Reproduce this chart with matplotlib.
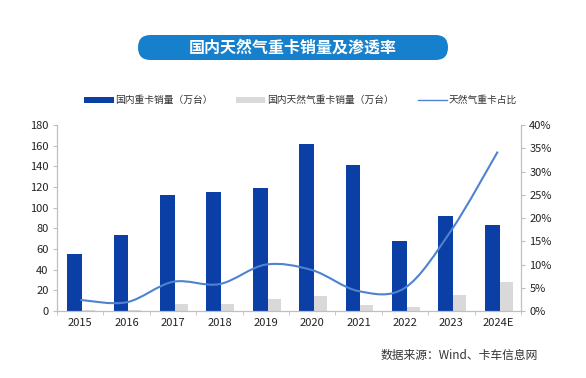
import numpy as np
import matplotlib
matplotlib.use('Agg')
import matplotlib.pyplot as plt
from matplotlib.patches import FancyBboxPatch, Patch, PathPatch
from matplotlib.lines import Line2D
from matplotlib.path import Path

plt.rcParams['font.family'] = ['Noto Sans CJK SC', 'DejaVu Sans']

years = ['2015', '2016', '2017', '2018', '2019', '2020', '2021', '2022', '2023', '2024E']
heavy_truck = [55, 74, 112, 115, 119, 162, 141, 68, 92, 83]  # 国内重卡销量（万台）
lng_truck = [1, 1, 7, 7, 12, 14.5, 6, 4, 15.5, 28]  # 国内天然气重卡销量（万台）
lng_share = [2.4, 1.9, 6.3, 5.8, 10.0, 8.8, 4.3, 5.0, 17.4, 34.3]  # 天然气重卡占比 (%)

BLUE = '#0b3fa6'
GRAY = '#d9d9d9'
LINE = '#4f82cf'
AXIS = '#bfbfbf'

fig = plt.figure(figsize=(5.86, 3.78), dpi=100)

# pixel-space overlay for the title pill
bg = fig.add_axes([0, 0, 1, 1])
bg.set_xlim(0, 586)
bg.set_ylim(378, 0)
bg.axis('off')
bg.add_patch(FancyBboxPatch((138, 35), 310, 25, boxstyle='round,pad=0,rounding_size=12.5',
                            facecolor='#1680cc', edgecolor='none'))
bg.text(293, 47.5, '国内天然气重卡销量及渗透率', ha='center', va='center', color='white',
        fontsize=11.5, fontweight='bold')

ax = fig.add_axes([0.0973, 0.177, 0.7917, 0.492])
ax2 = ax.twinx()

x = np.arange(len(years))
ax.bar(x - 0.12, heavy_truck, width=0.32, color=BLUE, zorder=2)
ax.bar(x + 0.18, lng_truck, width=0.28, color=GRAY, zorder=2)

# smoothed line (catmull-rom -> bezier), like excel's smoothed line
pts = np.column_stack([x, lng_share])
verts = [tuple(pts[0])]
codes = [Path.MOVETO]
for i in range(len(pts) - 1):
    p0 = pts[i - 1] if i > 0 else pts[i]
    p1, p2 = pts[i], pts[i + 1]
    p3 = pts[i + 2] if i + 2 < len(pts) else pts[i + 1]
    c1 = p1 + (p2 - p0) / 6
    c2 = p2 - (p3 - p1) / 6
    verts += [tuple(c1), tuple(c2), tuple(p2)]
    codes += [Path.CURVE4] * 3
ax2.add_patch(PathPatch(Path(verts, codes), fill=False, edgecolor=LINE, lw=1.5, zorder=3))

ax.set_xlim(-0.5, len(years) - 0.5)
ax.set_ylim(0, 180)
ax.set_yticks(range(0, 181, 20))
ax2.set_ylim(0, 40)
ax2.set_yticks(range(0, 41, 5))
ax2.set_yticklabels([f'{v}%' for v in range(0, 41, 5)])

ax.set_xticks(x)
ax.set_xticklabels(years)
ax.set_xticks(np.arange(-0.5, len(years), 1), minor=True)
ax.tick_params(axis='x', which='major', length=0, labelsize=8, pad=5, colors='#222222')
ax.tick_params(axis='x', which='minor', length=3, color=AXIS, direction='out')
ax.tick_params(axis='y', length=3, color=AXIS, labelsize=8, colors='#222222', pad=3)
ax2.tick_params(axis='y', length=3, color=AXIS, labelsize=8, colors='#222222', pad=3)

for a in (ax, ax2):
    a.spines['top'].set_visible(False)
    for s in ('left', 'right', 'bottom'):
        a.spines[s].set_color(AXIS)
        a.spines[s].set_linewidth(0.8)

handles = [Patch(facecolor=BLUE, edgecolor='none'),
           Patch(facecolor=GRAY, edgecolor='none'),
           Line2D([0], [0], color=LINE, lw=1.0)]
labels = ['国内重卡销量（万台）', '国内天然气重卡销量（万台）', '天然气重卡占比']
fig.legend(handles, labels, loc='center', bbox_to_anchor=(0.513, 0.735), ncol=3, frameon=False,
           fontsize=7, handlelength=3.0, handleheight=0.6, columnspacing=2.4, handletextpad=0.2,
           labelcolor='#333333')

fig.text(0.918, 0.06, '数据来源：Wind、卡车信息网', ha='right', va='center', fontsize=8.5, color='#333333')

fig.savefig('out.png', dpi=100)
